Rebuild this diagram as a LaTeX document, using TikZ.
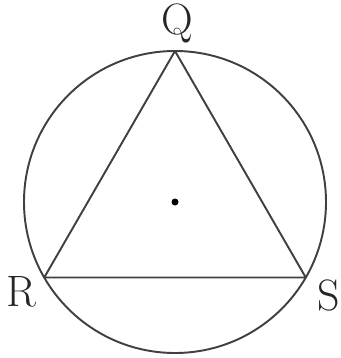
\documentclass[tikz,border=0pt]{standalone}
\usepackage{tikz}
\usetikzlibrary{calc}

\begin{document}
\begin{tikzpicture}[x=0.02cm, y=-0.02cm, line width=1.1pt, draw=black!75,
    vlabel/.style={font=\fontsize{25}{30}\selectfont, text=black!85}]
            \useasboundingbox (0,0) rectangle (341,358);
            % circle
            \coordinate (O) at (175,202);
            \path[draw] (O) circle[radius=151];
            \path[fill=black] (O) circle[radius=3.5];
            % vertices
            \coordinate (Q) at ($(O)+(90:-151)$);
            \coordinate (R) at ($(O)+(-30:-151)$);
            \coordinate (S) at ($(O)+(210:-151)$);
            \path[draw, line join=round] (Q)--(R)--(S)--cycle;
            % labels
            \node[vlabel] (lQ) at (177,23) {Q};
            \node[vlabel] (lR) at (21,292) {R};
            \node[vlabel] (lS) at (329,295) {S};
        \end{tikzpicture}
\end{document}
